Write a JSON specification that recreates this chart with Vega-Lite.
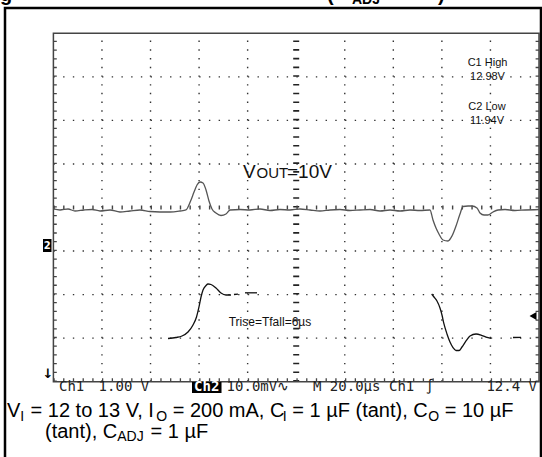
{
  "$schema": "https://vega.github.io/schema/vega-lite/v6.json",
  "width": 485.6,
  "height": 348.4,
  "autosize": {"type": "none"},
  "padding": {"left": 53.4, "top": 33.3, "right": 3, "bottom": 75.3},
  "background": "white",
  "config": {"view": {"stroke": null}},
  "datasets": {
    "vgrid": [{"x": 1}, {"x": 2}, {"x": 3}, {"x": 4}, {"x": 6}, {"x": 7}, {"x": 8}, {"x": 9}],
    "hgrid": [{"y": 1}, {"y": 2}, {"y": 3}, {"y": 5}, {"y": 6}, {"y": 7}],
    "ch2": [
      {"t": 0, "v": 3.966}, {"t": 0.136, "v": 3.943}, {"t": 0.301, "v": 3.966}, {"t": 0.445, "v": 3.92},
      {"t": 0.63, "v": 3.943}, {"t": 0.795, "v": 3.954}, {"t": 0.96, "v": 3.92}, {"t": 1.166, "v": 3.943},
      {"t": 1.371, "v": 3.897}, {"t": 1.577, "v": 3.92}, {"t": 1.783, "v": 3.943}, {"t": 1.989, "v": 3.908},
      {"t": 2.195, "v": 3.897}, {"t": 2.401, "v": 3.897}, {"t": 2.607, "v": 3.92}, {"t": 2.73, "v": 3.943},
      {"t": 2.772, "v": 4.011}, {"t": 2.834, "v": 4.172}, {"t": 2.896, "v": 4.356}, {"t": 2.957, "v": 4.517},
      {"t": 3.019, "v": 4.586}, {"t": 3.081, "v": 4.563}, {"t": 3.143, "v": 4.402}, {"t": 3.204, "v": 4.149},
      {"t": 3.266, "v": 3.966}, {"t": 3.348, "v": 3.874}, {"t": 3.451, "v": 3.816}, {"t": 3.554, "v": 3.851},
      {"t": 3.637, "v": 3.943}, {"t": 3.843, "v": 3.954}, {"t": 4.048, "v": 3.943}, {"t": 4.254, "v": 3.966},
      {"t": 4.46, "v": 3.931}, {"t": 4.666, "v": 3.954}, {"t": 4.872, "v": 3.943}, {"t": 5.078, "v": 3.966},
      {"t": 5.284, "v": 3.943}, {"t": 5.49, "v": 3.92}, {"t": 5.696, "v": 3.943}, {"t": 5.902, "v": 3.954},
      {"t": 6.108, "v": 3.931}, {"t": 6.314, "v": 3.943}, {"t": 6.52, "v": 3.954}, {"t": 6.726, "v": 3.92},
      {"t": 6.932, "v": 3.943}, {"t": 7.138, "v": 3.92}, {"t": 7.343, "v": 3.943}, {"t": 7.549, "v": 3.931},
      {"t": 7.755, "v": 3.943}, {"t": 7.817, "v": 3.713}, {"t": 7.879, "v": 3.529}, {"t": 7.94, "v": 3.392},
      {"t": 8.023, "v": 3.254}, {"t": 8.126, "v": 3.231}, {"t": 8.208, "v": 3.346}, {"t": 8.291, "v": 3.575},
      {"t": 8.373, "v": 3.851}, {"t": 8.435, "v": 4.023}, {"t": 8.538, "v": 4.034}, {"t": 8.62, "v": 4.034},
      {"t": 8.723, "v": 3.989}, {"t": 8.785, "v": 3.874}, {"t": 8.867, "v": 3.828}, {"t": 8.95, "v": 3.828},
      {"t": 9.053, "v": 3.897}, {"t": 9.156, "v": 3.943}, {"t": 9.3, "v": 3.954}, {"t": 9.506, "v": 3.931},
      {"t": 9.712, "v": 3.943}, {"t": 10.0, "v": 3.954}
    ],
    "ch1": [
      {"seg": "a", "t": 2.36, "v": 0.992}, {"seg": "a", "t": 2.525, "v": 1.015}, {"seg": "a", "t": 2.648, "v": 1.049},
      {"seg": "a", "t": 2.772, "v": 1.141}, {"seg": "a", "t": 2.875, "v": 1.302}, {"seg": "a", "t": 2.947, "v": 1.486},
      {"seg": "a", "t": 2.998, "v": 1.716}, {"seg": "a", "t": 3.04, "v": 1.945}, {"seg": "a", "t": 3.081, "v": 2.106},
      {"seg": "a", "t": 3.143, "v": 2.209}, {"seg": "a", "t": 3.184, "v": 2.243}, {"seg": "a", "t": 3.246, "v": 2.232},
      {"seg": "a", "t": 3.348, "v": 2.152}, {"seg": "a", "t": 3.451, "v": 2.037}, {"seg": "a", "t": 3.554, "v": 1.991},
      {"seg": "a", "t": 3.657, "v": 1.991},
      {"seg": "b", "t": 3.719, "v": 2.002}, {"seg": "b", "t": 3.801, "v": 2.009},
      {"seg": "c", "t": 3.945, "v": 2.041}, {"seg": "c", "t": 4.193, "v": 2.041},
      {"seg": "d", "t": 7.79, "v": 2.014}, {"seg": "d", "t": 7.838, "v": 1.945}, {"seg": "d", "t": 7.899, "v": 1.853},
      {"seg": "d", "t": 7.961, "v": 1.692}, {"seg": "d", "t": 8.002, "v": 1.532}, {"seg": "d", "t": 8.043, "v": 1.326},
      {"seg": "d", "t": 8.105, "v": 1.096}, {"seg": "d", "t": 8.167, "v": 0.912}, {"seg": "d", "t": 8.229, "v": 0.785},
      {"seg": "d", "t": 8.291, "v": 0.716}, {"seg": "d", "t": 8.353, "v": 0.716}, {"seg": "d", "t": 8.414, "v": 0.797},
      {"seg": "d", "t": 8.497, "v": 0.935}, {"seg": "d", "t": 8.579, "v": 1.049}, {"seg": "d", "t": 8.703, "v": 1.095},
      {"seg": "d", "t": 8.806, "v": 1.072}, {"seg": "d", "t": 8.909, "v": 1.026}, {"seg": "d", "t": 9.012, "v": 0.997},
      {"seg": "e", "t": 9.465, "v": 1.015}, {"seg": "e", "t": 9.63, "v": 1.02}
    ],
    "meas": [
      {"lab": "C1 High", "x": 8.94, "y": 7.311},
      {"lab": "12.98V", "x": 8.94, "y": 7.0},
      {"lab": "C2 Low", "x": 8.929, "y": 6.315},
      {"lab": "11.94V", "x": 8.929, "y": 5.986}
    ],
    "status": [
      {"lab": "Ch1", "x": 0.115, "y": -0.2135},
      {"lab": "1.00 V", "x": 0.931, "y": -0.2135},
      {"lab": "10.0mV∿", "x": 3.567, "y": -0.2135},
      {"lab": "M 20.0µs", "x": 5.346, "y": -0.2135},
      {"lab": "Ch1", "x": 6.911, "y": -0.2135},
      {"lab": "∫", "x": 7.665, "y": -0.2135}
    ],
    "capmain": [
      {"lab": "V", "x": -0.9555, "y": -0.8037},
      {"lab": "= 12 to 13 V, I", "x": -0.47, "y": -0.8037},
      {"lab": "= 200 mA, C", "x": 2.457, "y": -0.8037},
      {"lab": "= 1 µF (tant), C", "x": 4.92, "y": -0.8037},
      {"lab": "= 10 µF", "x": 8.058, "y": -0.8037},
      {"lab": "(tant), C", "x": -0.173, "y": -1.2813},
      {"lab": "= 1 µF", "x": 2.0, "y": -1.2813}
    ],
    "capsub": [
      {"lab": "I", "x": -0.6808, "y": -0.8955},
      {"lab": "O", "x": 2.117, "y": -0.8955},
      {"lab": "I", "x": 4.724, "y": -0.8955},
      {"lab": "O", "x": 7.718, "y": -0.8955},
      {"lab": "ADJ", "x": 1.3147, "y": -1.3731}
    ],
    "titlefrag": [
      {"lab": "g", "x": -1.0997, "y": 8.742},
      {"lab": "(", "x": 5.634, "y": 8.742},
      {"lab": ")", "x": 7.92, "y": 8.742}
    ]
  },
  "layer": [
    {
      "data": {"name": "vgrid"},
      "mark": {"type": "rule", "stroke": "#333", "strokeWidth": 1.4, "strokeDash": [1.4, 7.31]},
      "encoding": {
        "x": {"field": "x", "type": "quantitative", "scale": {"domain": [0, 10], "nice": false, "zero": false}, "axis": null},
        "y": {"datum": 0, "type": "quantitative", "scale": {"domain": [0, 8], "nice": false, "zero": false}, "axis": null},
        "y2": {"datum": 8}
      }
    },
    {
      "data": {"name": "hgrid"},
      "mark": {"type": "rule", "stroke": "#333", "strokeWidth": 1.4, "strokeDash": [1.4, 8.32]},
      "encoding": {
        "x": {"datum": 0, "type": "quantitative", "axis": null},
        "x2": {"datum": 10},
        "y": {"field": "y", "type": "quantitative", "axis": null}
      }
    },
    {
      "data": {"values": [{}]},
      "mark": {"type": "rule", "stroke": "#222", "strokeWidth": 6, "strokeDash": [1.6, 7.11]},
      "encoding": {
        "x": {"datum": 5, "type": "quantitative", "axis": null},
        "y": {"datum": 0, "type": "quantitative", "axis": null},
        "y2": {"datum": 8}
      }
    },
    {
      "data": {"values": [{}]},
      "mark": {"type": "rule", "stroke": "#444", "strokeWidth": 4, "strokeDash": [1.4, 8.32]},
      "encoding": {
        "x": {"datum": 0, "type": "quantitative", "axis": null},
        "x2": {"datum": 10},
        "y": {"datum": 4, "type": "quantitative", "axis": null}
      }
    },
    {
      "data": {"values": [{"x": 0.035}, {"x": 9.965}]},
      "mark": {"type": "rule", "stroke": "#444", "strokeWidth": 3.4, "strokeDash": [1.3, 7.41]},
      "encoding": {
        "x": {"field": "x", "type": "quantitative", "axis": null},
        "y": {"datum": 0, "type": "quantitative", "axis": null},
        "y2": {"datum": 8}
      }
    },
    {
      "data": {"values": [{"y": 0.04}]},
      "mark": {"type": "rule", "stroke": "#444", "strokeWidth": 3.4, "strokeDash": [1.3, 8.42]},
      "encoding": {
        "x": {"datum": 0, "type": "quantitative", "axis": null},
        "x2": {"datum": 10},
        "y": {"field": "y", "type": "quantitative", "axis": null}
      }
    },
    {
      "data": {"values": [{}]},
      "mark": {"type": "rect", "fill": "transparent", "stroke": "#444", "strokeWidth": 1.5},
      "encoding": {
        "x": {"datum": 0, "type": "quantitative", "axis": null},
        "x2": {"datum": 10},
        "y": {"datum": 0, "type": "quantitative", "axis": null},
        "y2": {"datum": 8}
      }
    },
    {
      "data": {"name": "ch2"},
      "mark": {"type": "line", "stroke": "#555", "strokeWidth": 1.3, "interpolate": "monotone"},
      "encoding": {
        "x": {"field": "t", "type": "quantitative", "axis": null},
        "y": {"field": "v", "type": "quantitative", "axis": null}
      }
    },
    {
      "data": {"name": "ch1"},
      "mark": {"type": "line", "stroke": "#111", "strokeWidth": 1.3, "interpolate": "monotone"},
      "encoding": {
        "x": {"field": "t", "type": "quantitative", "axis": null},
        "y": {"field": "v", "type": "quantitative", "axis": null},
        "detail": {"field": "seg"}
      }
    },
    {
      "data": {"name": "meas"},
      "mark": {"type": "text", "font": "Liberation Sans", "fontSize": 11, "align": "center", "baseline": "middle", "color": "#111"},
      "encoding": {
        "x": {"field": "x", "type": "quantitative", "axis": null},
        "y": {"field": "y", "type": "quantitative", "axis": null},
        "text": {"field": "lab"}
      }
    },
    {
      "data": {"values": [{"lab": "V", "x": 3.904, "y": 4.677}, {"lab": "=10V", "x": 4.811, "y": 4.677}]},
      "mark": {"type": "text", "font": "Liberation Sans", "fontSize": 19, "align": "left", "baseline": "alphabetic", "color": "#111"},
      "encoding": {
        "x": {"field": "x", "type": "quantitative", "axis": null},
        "y": {"field": "y", "type": "quantitative", "axis": null},
        "text": {"field": "lab"}
      }
    },
    {
      "data": {"values": [{"lab": "OUT", "x": 4.182, "y": 4.677}]},
      "mark": {"type": "text", "font": "Liberation Sans", "fontSize": 15, "align": "left", "baseline": "alphabetic", "color": "#111"},
      "encoding": {
        "x": {"field": "x", "type": "quantitative", "axis": null},
        "y": {"field": "y", "type": "quantitative", "axis": null},
        "text": {"field": "lab"}
      }
    },
    {
      "data": {"values": [{"lab": "Trise=Tfall=6µs", "x": 4.46, "y": 1.382}]},
      "mark": {"type": "text", "font": "Liberation Sans", "fontSize": 12, "align": "center", "baseline": "middle", "color": "#111"},
      "encoding": {
        "x": {"field": "x", "type": "quantitative", "axis": null},
        "y": {"field": "y", "type": "quantitative", "axis": null},
        "text": {"field": "lab"}
      }
    },
    {
      "data": {"values": [{}]},
      "mark": {"type": "rect", "fill": "#000"},
      "encoding": {
        "x": {"datum": -0.214, "type": "quantitative", "axis": null},
        "x2": {"datum": -0.039},
        "y": {"datum": 3.277, "type": "quantitative", "axis": null},
        "y2": {"datum": 2.978}
      }
    },
    {
      "data": {"values": [{"lab": "2", "x": -0.126, "y": 3.127}]},
      "mark": {"type": "text", "font": "DejaVu Sans", "fontSize": 10, "fontWeight": "bold", "align": "center", "baseline": "middle", "color": "#fff"},
      "encoding": {
        "x": {"field": "x", "type": "quantitative", "axis": null},
        "y": {"field": "y", "type": "quantitative", "axis": null},
        "text": {"field": "lab"}
      }
    },
    {
      "data": {"values": [{"lab": "↓", "x": -0.111, "y": 0.177}]},
      "mark": {"type": "text", "font": "DejaVu Sans", "fontSize": 13, "fontWeight": "bold", "align": "center", "baseline": "middle", "color": "#000"},
      "encoding": {
        "x": {"field": "x", "type": "quantitative", "axis": null},
        "y": {"field": "y", "type": "quantitative", "axis": null},
        "text": {"field": "lab"}
      }
    },
    {
      "data": {"values": [{"x": 9.877, "y": 1.509}]},
      "mark": {"type": "point", "shape": "triangle-left", "filled": true, "color": "#000", "size": 65, "opacity": 1},
      "encoding": {
        "x": {"field": "x", "type": "quantitative", "axis": null},
        "y": {"field": "y", "type": "quantitative", "axis": null}
      }
    },
    {
      "data": {"name": "status"},
      "mark": {"type": "text", "font": "DejaVu Sans Mono", "fontSize": 14, "align": "left", "baseline": "alphabetic", "color": "#222"},
      "encoding": {
        "x": {"field": "x", "type": "quantitative", "axis": null},
        "y": {"field": "y", "type": "quantitative", "axis": null},
        "text": {"field": "lab"}
      }
    },
    {
      "data": {"values": [{"lab": "12.4 V", "x": 9.958, "y": -0.2135}]},
      "mark": {"type": "text", "font": "DejaVu Sans Mono", "fontSize": 14, "align": "right", "baseline": "alphabetic", "color": "#222"},
      "encoding": {
        "x": {"field": "x", "type": "quantitative", "axis": null},
        "y": {"field": "y", "type": "quantitative", "axis": null},
        "text": {"field": "lab"}
      }
    },
    {
      "data": {"values": [{}]},
      "mark": {"type": "rect", "fill": "#000"},
      "encoding": {
        "x": {"datum": 2.854, "type": "quantitative", "axis": null},
        "x2": {"datum": 3.462},
        "y": {"datum": -0.007, "type": "quantitative", "axis": null},
        "y2": {"datum": -0.26}
      }
    },
    {
      "data": {"values": [{"lab": "Ch2", "x": 3.157, "y": -0.2135}]},
      "mark": {"type": "text", "font": "DejaVu Sans Mono", "fontSize": 14, "fontWeight": "bold", "align": "center", "baseline": "alphabetic", "color": "#fff"},
      "encoding": {
        "x": {"field": "x", "type": "quantitative", "axis": null},
        "y": {"field": "y", "type": "quantitative", "axis": null},
        "text": {"field": "lab"}
      }
    },
    {
      "data": {"name": "capmain"},
      "mark": {"type": "text", "font": "Liberation Sans", "fontSize": 20, "align": "left", "baseline": "alphabetic", "color": "#000"},
      "encoding": {
        "x": {"field": "x", "type": "quantitative", "axis": null},
        "y": {"field": "y", "type": "quantitative", "axis": null},
        "text": {"field": "lab"}
      }
    },
    {
      "data": {"name": "capsub"},
      "mark": {"type": "text", "font": "Liberation Sans", "fontSize": 14, "align": "left", "baseline": "alphabetic", "color": "#000"},
      "encoding": {
        "x": {"field": "x", "type": "quantitative", "axis": null},
        "y": {"field": "y", "type": "quantitative", "axis": null},
        "text": {"field": "lab"}
      }
    },
    {
      "data": {"name": "titlefrag"},
      "mark": {"type": "text", "font": "Liberation Sans", "fontSize": 20, "fontWeight": "bold", "align": "left", "baseline": "alphabetic", "color": "#000"},
      "encoding": {
        "x": {"field": "x", "type": "quantitative", "axis": null},
        "y": {"field": "y", "type": "quantitative", "axis": null},
        "text": {"field": "lab"}
      }
    },
    {
      "data": {"values": [{"lab": "ADJ", "x": 6.149, "y": 8.673}]},
      "mark": {"type": "text", "font": "Liberation Sans", "fontSize": 14, "fontWeight": "bold", "align": "left", "baseline": "alphabetic", "color": "#000"},
      "encoding": {
        "x": {"field": "x", "type": "quantitative", "axis": null},
        "y": {"field": "y", "type": "quantitative", "axis": null},
        "text": {"field": "lab"}
      }
    },
    {
      "data": {"values": [{}]},
      "mark": {"type": "rect", "fill": "transparent", "stroke": "#000", "strokeWidth": 2.5},
      "encoding": {
        "x": {"datum": -0.9967, "type": "quantitative", "axis": null},
        "x2": {"datum": 10.041},
        "y": {"datum": 8.581, "type": "quantitative", "axis": null},
        "y2": {"datum": -1.85}
      }
    }
  ]
}
